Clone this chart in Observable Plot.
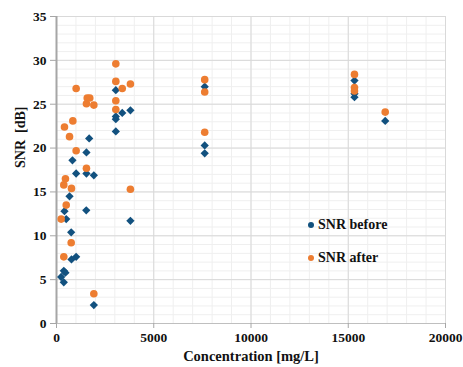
<!DOCTYPE html>
<html>
<head>
<meta charset="utf-8">
<script src="https://cdn.jsdelivr.net/npm/d3@7"></script>
<script src="https://cdn.jsdelivr.net/npm/@observablehq/plot@0.6"></script>
<style>
  html, body { margin: 0; padding: 0; background: #fff; }
  #wrap { position: relative; width: 463px; height: 367px; }
  #wrap svg text { font-family: "Liberation Serif", "Times New Roman", serif !important; font-weight: 700 !important; }
  .leg { position: absolute; font-family: "Liberation Serif", "Times New Roman", serif; font-weight: 700; font-size: 14px; color: #111; white-space: nowrap; line-height: 16px; }
  .leg span.dot { display: inline-block; width: 6px; height: 6px; border-radius: 50%; margin-right: 4px; vertical-align: middle; position: relative; top: -1px; }
</style>
</head>
<body>
<div id="wrap"></div>
<script>
// Data
const concBefore = [240, 375, 375, 410, 460, 500, 670, 755, 770, 820, 1010, 1010, 1530, 1540, 1540, 1680, 1920, 1920, 3050, 3050, 3050, 3050, 3380, 3800, 3800, 7620, 7620, 7620, 15320, 15320, 15320, 16900];
const snrBefore  = [5.3, 4.7, 6.0, 12.8, 5.8, 11.9, 14.5, 10.4, 7.3, 18.6, 17.1, 7.6, 12.9, 19.5, 17.1, 21.1, 16.9, 2.1, 26.6, 23.6, 23.3, 21.9, 24.0, 24.3, 11.7, 27.0, 20.3, 19.4, 27.7, 26.2, 25.8, 23.1];
const concAfter  = [240, 375, 375, 410, 460, 500, 670, 755, 770, 840, 1010, 1010, 1540, 1540, 1580, 1710, 1920, 1920, 3050, 3050, 3050, 3050, 3380, 3800, 3800, 7620, 7620, 7620, 15320, 15320, 15320, 16900];
const snrAfter   = [11.9, 15.8, 7.6, 22.4, 16.5, 13.5, 21.3, 9.2, 15.4, 23.1, 26.8, 19.7, 25.05, 17.7, 25.7, 25.7, 24.9, 3.4, 29.6, 27.6, 25.4, 24.4, 26.8, 27.3, 15.3, 27.8, 26.4, 21.8, 28.4, 26.9, 26.5, 24.1];
const xTicks = [0, 5000, 10000, 15000, 20000];
const yTicks = [0, 5, 10, 15, 20, 25, 30, 35];
const seriesNames = ["SNR before", "SNR after"];
const seriesColors = ["#12517f", "#ed7d31"];

const before = concBefore.map((c, i) => ({conc: c, snr: snrBefore[i]}));
const after = concAfter.map((c, i) => ({conc: c, snr: snrAfter[i]}));
const xMinor = d3.range(0, 20001, 1000);
const yMinor = d3.range(0, 35.01, 1);

const font = '"Liberation Serif", "Times New Roman", serif';

const chart = Plot.plot({
  width: 463,
  height: 367,
  marginLeft: 56,
  marginRight: 18,
  marginTop: 16,
  marginBottom: 44,
  style: {fontFamily: font, fontSize: "13px", fontWeight: "bold", color: "#111", background: "#fff"},
  x: {domain: [0, 20000], ticks: xTicks},
  y: {domain: [0, 35], ticks: yTicks},
  marks: [
    Plot.ruleX(xMinor, {stroke: "#efefef", strokeWidth: 1}),
    Plot.ruleY(yMinor, {stroke: "#efefef", strokeWidth: 1}),
    Plot.ruleX(xTicks, {stroke: "#d9d9d9", strokeWidth: 1}),
    Plot.ruleY(yTicks, {stroke: "#d9d9d9", strokeWidth: 1}),
    Plot.ruleY([0], {stroke: "#bfbfbf", strokeWidth: 1.2}),
    Plot.ruleX([0], {stroke: "#a6a6a6", strokeWidth: 2}),
    Plot.axisX({ticks: xTicks, tickSize: 5, tickPadding: 4, stroke: "#a6a6a6", fill: "#111", fontFamily: font, fontSize: 13.5, fontWeight: "bold", label: null, tickFormat: d => String(d)}),
    Plot.axisY({ticks: yTicks, tickSize: 6, tickPadding: 4, stroke: "#a6a6a6", fill: "#111", fontFamily: font, fontSize: 13.5, fontWeight: "bold", label: null}),
    Plot.text(["Concentration [mg/L]"], {frameAnchor: "bottom", dy: 37, fontFamily: font, fontSize: 14.5, fontWeight: "bold", fill: "#111"}),
    Plot.text(["SNR  [dB]"], {frameAnchor: "left", dx: -36, dy: -2, rotate: -90, fontFamily: font, fontSize: 14, fontWeight: "bold", fill: "#111"}),
    Plot.dot(before, {x: "conc", y: "snr", symbol: "square", r: 3.3, rotate: 45, fill: seriesColors[0], stroke: "none"}),
    Plot.dot(after, {x: "conc", y: "snr", symbol: "circle", r: 3.8, fill: seriesColors[1], stroke: "none"})
  ]
});
const wrap = document.getElementById("wrap");
wrap.appendChild(chart);

// Legend (inside plot area)
const legendPos = [{left: 308, top: 217}, {left: 308, top: 250}];
seriesNames.forEach((name, i) => {
  const d = document.createElement("div");
  d.className = "leg";
  d.style.left = legendPos[i].left + "px";
  d.style.top = legendPos[i].top + "px";
  const dot = document.createElement("span");
  dot.className = "dot";
  dot.style.background = seriesColors[i];
  d.appendChild(dot);
  d.appendChild(document.createTextNode(name));
  wrap.appendChild(d);
});
</script>
</body>
</html>
